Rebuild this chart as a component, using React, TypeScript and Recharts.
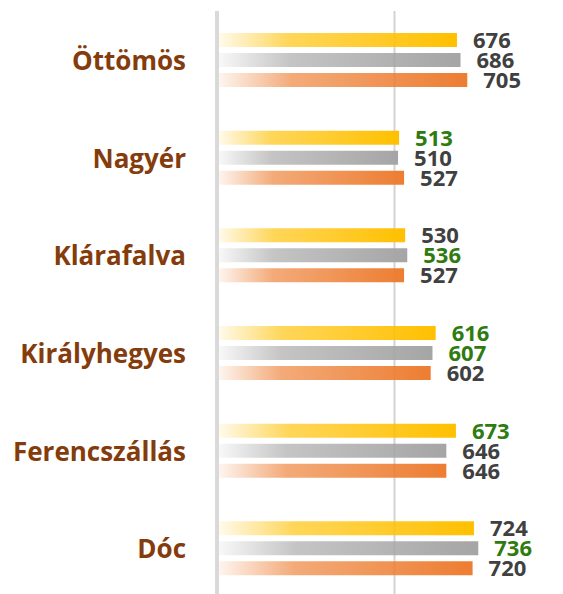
import React from 'react';
import { BarChart, Bar, XAxis, YAxis, CartesianGrid, LabelList } from 'recharts';

const categories = ['Öttömös', 'Nagyér', 'Klárafalva', 'Királyhegyes', 'Ferencszállás', 'Dóc'];
const series1 = [676, 513, 530, 616, 673, 724];
const series2 = [686, 510, 536, 607, 646, 736];
const series3 = [705, 527, 527, 602, 646, 720];
const highlight1 = [false, true, false, true, true, false];
const highlight2 = [false, false, true, true, false, true];
const highlight3 = [false, false, false, false, false, false];
const xTicks = [0, 500, 1000];

const data = categories.map((name, i) => ({
  name,
  s1: series1[i],
  s2: series2[i],
  s3: series3[i],
}));

const FONT = '"Open Sans", "Noto Sans", sans-serif';

const makeLabel = (hl: boolean[]) => (props: any) => {
  const { x, y, width, height, value, index } = props;
  return (
    <text
      x={Number(x) + Number(width) + 16}
      y={Number(y) + Number(height) / 2 - 1}
      dominantBaseline="central"
      textAnchor="start"
      fontFamily={FONT}
      fontWeight={700}
      fontSize={22}
      fill={hl[index] ? '#2E7B10' : '#404040'}
    >
      {value}
    </text>
  );
};

const CatTick = (props: any) => {
  const { x, y, payload } = props;
  return (
    <text
      x={x}
      y={y}
      dominantBaseline="central"
      textAnchor="end"
      fontFamily={FONT}
      fontWeight={700}
      fontSize={26}
      fill="#843C0C"
    >
      {payload.value}
    </text>
  );
};

const Grad = ({ id, color }: { id: string; color: string }) => (
  <linearGradient id={id} x1="0" y1="0" x2="1" y2="0">
    <stop offset="0" stopColor={color} stopOpacity={0.06} />
    <stop offset="0.3" stopColor={color} stopOpacity={0.65} />
    <stop offset="1" stopColor={color} stopOpacity={1} />
  </linearGradient>
);

export default function App() {
  return (
    <div style={{ position: 'absolute', left: 0, top: 0, width: 563, height: 594, overflow: 'hidden', background: '#fff' }}>
      <svg width={0} height={0} style={{ position: 'absolute' }}>
        <defs>
          <Grad id="gYellow" color="#FFC000" />
          <Grad id="gGray" color="#A5A5A5" />
          <Grad id="gOrange" color="#ED7D31" />
        </defs>
      </svg>
      <BarChart
        width={634}
        height={600}
        data={data}
        layout="vertical"
        margin={{ top: 11, right: 62, bottom: 3, left: 0 }}
        barSize={14}
        barGap={6}
      >
        <CartesianGrid horizontal={false} vertical={true} stroke="#D3D3D3" strokeWidth={2} />
        <XAxis type="number" domain={[0, 1000]} ticks={xTicks} hide />
        <YAxis
          type="category"
          dataKey="name"
          width={217}
          axisLine={{ stroke: '#D9D9D9', strokeWidth: 4 }}
          tickLine={false}
          tickSize={0}
          tickMargin={31}
          tick={<CatTick />}
          interval={0}
        />
        <Bar dataKey="s1" fill="url(#gYellow)" isAnimationActive={false}>
          <LabelList dataKey="s1" content={makeLabel(highlight1)} />
        </Bar>
        <Bar dataKey="s2" fill="url(#gGray)" isAnimationActive={false}>
          <LabelList dataKey="s2" content={makeLabel(highlight2)} />
        </Bar>
        <Bar dataKey="s3" fill="url(#gOrange)" isAnimationActive={false}>
          <LabelList dataKey="s3" content={makeLabel(highlight3)} />
        </Bar>
      </BarChart>
    </div>
  );
}
